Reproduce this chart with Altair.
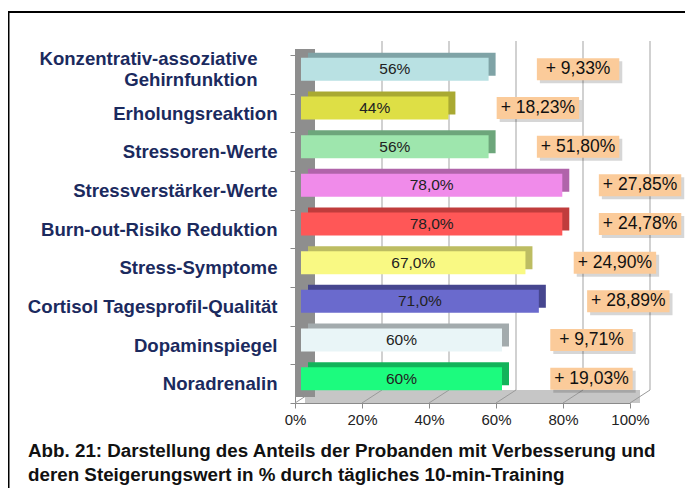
import altair as alt
import pandas as pd

categories = [
    "Konzentrativ-assoziative Gehirnfunktion",
    "Erholungsreaktion",
    "Stressoren-Werte",
    "Stressverstärker-Werte",
    "Burn-out-Risiko Reduktion",
    "Stress-Symptome",
    "Cortisol Tagesprofil-Qualität",
    "Dopaminspiegel",
    "Noradrenalin",
]
shares = [56, 44, 56, 78, 78, 67, 71, 60, 60]
share_labels = ["56%", "44%", "56%", "78,0%", "78,0%", "67,0%", "71,0%", "60%", "60%"]
increase_labels = ["+ 9,33%", "+ 18,23%", "+ 51,80%", "+ 27,85%", "+ 24,78%",
                   "+ 24,90%", "+ 28,89%", "+ 9,71%", "+ 19,03%"]
front_colors = ["#B9E1E3", "#DEDF45", "#9EE6AD", "#F08BEA", "#FF5757",
                "#F9F983", "#6A6ACD", "#E9F5F7", "#1CFB7E"]
side_colors = ["#7FA3A6", "#A9A932", "#6DA67B", "#B064AA", "#C03C3C",
               "#BDBD62", "#46468F", "#A3ABAD", "#12B35A"]
x_ticks = [0, 20, 40, 60, 80, 100]
caption_lines = [
    "Abb. 21: Darstellung des Anteils der Probanden mit Verbesserung und",
    "deren Steigerungswert in % durch tägliches 10-min-Training",
]

FONT = "Liberation Sans, Arial, sans-serif"
TWO_LINE = "Konzentrativ-assoziative Gehirnfunktion"

df = pd.DataFrame({
    "cat": categories,
    "share": shares,
    "slabel": share_labels,
    "inc": increase_labels,
    "side": categories,
})
ticks_df = pd.DataFrame({"tick": x_ticks})
one = pd.DataFrame({"k": [0]})

xscale = alt.Scale(domain=[0, 100], nice=False)
yscale = alt.Scale(domain=categories, paddingInner=0, paddingOuter=0)

label_expr = (
    f"datum.value == '{TWO_LINE}' ? "
    "['Konzentrativ-assoziative', 'Gehirnfunktion'] : datum.value"
)
is_two = f"datum.value == '{TWO_LINE}'"

X = alt.X("share:Q", scale=xscale,
          axis=alt.Axis(values=x_ticks, format=".0f", labelExpr="datum.label + '%'",
                        title=None, grid=False, domainColor="#8A8A8A", tickColor="#8A8A8A",
                        tickSize=5, labelFont=FONT, labelFontSize=15, labelColor="#222222",
                        labelPadding=4, labelFlush=False, labelOverlap=False))
Y = alt.Y("cat:N", scale=yscale, sort=categories,
          axis=alt.Axis(title=None, labelExpr=label_expr, labelFont=FONT, labelFontSize=18.6,
                        labelFontWeight="bold", labelColor="#1B2A5E",
                        labelPadding={"condition": {"test": is_two, "value": 33}, "value": 13},
                        labelOffset={"condition": {"test": is_two, "value": -16}, "value": 0},
                        labelLineHeight=21, tickBand="extent", tickSize=5,
                        tickColor="#8A8A8A", domainColor="#8A8A8A", labelLimit=400))

# decorations: back wall grid, floor, left wall
grid = alt.Chart(ticks_df).transform_filter("datum.tick > 0").mark_rule(
    color="#A3A3A3", strokeWidth=1, xOffset=20
).encode(x=alt.X("tick:Q", scale=xscale), y=alt.value(-14), y2=alt.value(335))

floor = alt.Chart(one).mark_rect(color="#C6C6C6").encode(
    x=alt.value(10), x2=alt.value(345), y=alt.value(335), y2=alt.value(348))

floor_lines = alt.Chart(ticks_df).mark_rule(color="#9A9A9A", strokeWidth=1, x2Offset=20).encode(
    x=alt.X("tick:Q", scale=xscale), x2="tick:Q", y=alt.value(348), y2=alt.value(335))

wall = alt.Chart(one).mark_rect(color="#8E8E8E").encode(
    x=alt.value(0), x2=alt.value(20), y=alt.value(-6), y2=alt.value(342))

base = alt.Chart(df)

back_bars = base.mark_bar(height=23, xOffset=13, x2Offset=13, yOffset=-10).encode(
    x=X, y=Y,
    color=alt.Color("side:N", scale=alt.Scale(domain=categories, range=side_colors), legend=None))

front_bars = base.mark_bar(height=23, xOffset=6, x2Offset=6, yOffset=-5).encode(
    x=X, y=Y,
    color=alt.Color("cat:N", scale=alt.Scale(domain=categories, range=front_colors), legend=None))

bar_text = base.transform_calculate(mid="datum.share / 2").mark_text(
    font=FONT, fontSize=15.5, color="#222222", dx=6, dy=-5, baseline="middle", align="center"
).encode(x=alt.X("mid:Q", scale=xscale), y=Y, text="slabel:N")

notes = base.transform_calculate(
    nx="min(datum.share + 28.5, 103)"
).transform_calculate(
    nx1="datum.nx - 12.3", nx2="datum.nx + 12.3"
)

note_shadow = notes.mark_bar(height=22, color="#000000", opacity=0.16,
                             xOffset=3, x2Offset=3, yOffset=-2).encode(
    x=alt.X("nx1:Q", scale=xscale), x2="nx2:Q", y=Y)
note_box = notes.mark_bar(height=22, color="#FBCB9A", yOffset=-5).encode(
    x=alt.X("nx1:Q", scale=xscale), x2="nx2:Q", y=Y)
note_text = notes.mark_text(font=FONT, fontSize=17.5, color="#111111", dy=-5,
                            baseline="middle", align="center").encode(
    x=alt.X("nx:Q", scale=xscale), y=Y, text="inc:N")

captions = [
    alt.Chart(pd.DataFrame({"line": [txt]})).mark_text(
        font=FONT, fontSize=18.8, fontWeight="bold", color="#111111",
        align="left", baseline="alphabetic"
    ).encode(x=alt.value(-267), y=alt.value(402 + 24 * i), text="line:N")
    for i, txt in enumerate(caption_lines)
]

border = alt.Chart(one).mark_rect(filled=False, stroke="#000000", strokeWidth=2).encode(
    x=alt.value(-286.5), x2=alt.value(420), y=alt.value(-43), y2=alt.value(470))

chart = alt.layer(
    grid, floor, floor_lines, wall, back_bars, front_bars, bar_text,
    note_shadow, note_box, note_text, *captions, border
).resolve_scale(color="independent").properties(
    width=335, height=348,
    autosize=alt.AutoSizeParams(type="none"),
    padding={"left": 287, "top": 47, "right": 55, "bottom": 85},
    background="white",
).configure_view(stroke=None)

chart.save("out.html", embed_options={"renderer": "svg", "actions": False})
